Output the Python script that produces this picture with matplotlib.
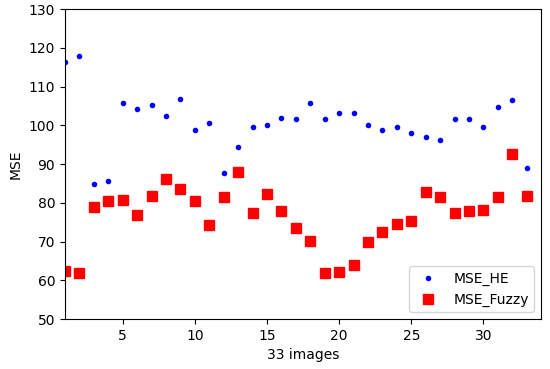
import matplotlib.pyplot as plt

# values
images = list(range(1, 34))

mse_he = [116.4, 117.9, 84.9, 85.6, 105.7, 104.3, 105.4, 102.5, 106.9, 98.8,
          100.7, 87.8, 94.4, 99.5, 100.2, 102.0, 101.7, 105.7, 101.7, 103.2,
          103.2, 100.2, 98.8, 99.5, 98.1, 97.0, 96.2, 101.7, 101.7, 99.5,
          104.7, 106.5, 88.9]

mse_fuzzy = [62.5, 61.8, 79.0, 80.5, 80.8, 76.8, 81.9, 86.3, 83.7, 80.5,
             74.3, 81.6, 88.1, 77.5, 82.3, 77.9, 73.5, 70.2, 61.8, 62.1,
             63.9, 69.9, 72.5, 74.6, 75.3, 82.7, 81.6, 77.5, 77.9, 78.2,
             81.6, 92.6, 81.9]

fig = plt.figure(figsize=(5.5, 3.69), dpi=100)
ax = fig.add_axes([0.118, 0.135, 0.866, 0.84])

ax.plot(images, mse_he, "b.", label="MSE_HE")
ax.plot(images, mse_fuzzy, "rs", markersize=7, label="MSE_Fuzzy")

ax.set_xlim(1, 34)
ax.set_ylim(50, 130)
ax.set_xlabel("33 images")
ax.set_ylabel("MSE")
ax.legend(loc="lower right")

fig.savefig("out.png")
